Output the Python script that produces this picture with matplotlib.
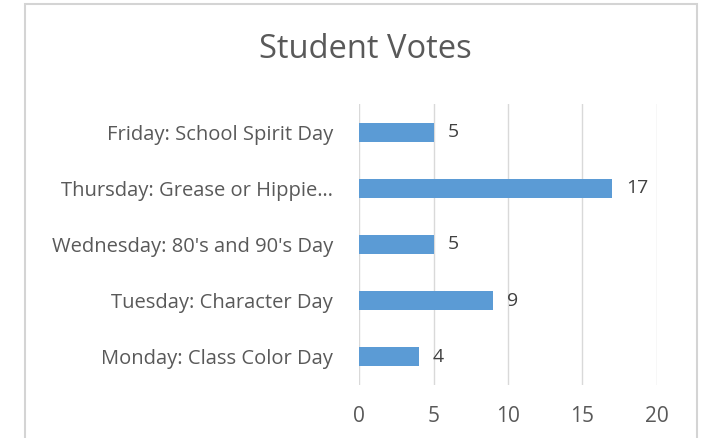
import matplotlib.pyplot as plt
from matplotlib.patches import Rectangle

# Student votes per spirit day
days = [
    "Monday: Class Color Day",
    "Tuesday: Character Day",
    "Wednesday: 80's and 90's Day",
    "Thursday: Grease or Hippie\u2026",
    "Friday: School Spirit Day",
]
votes = [4, 9, 5, 17, 5]
x_ticks = [0, 5, 10, 15, 20]

plt.rcParams['font.family'] = ['Open Sans', 'DejaVu Sans']

fig = plt.figure(figsize=(7.06, 4.38), dpi=100)
ax = fig.add_axes([0.509, 0.121, 0.4213, 0.6416])

ypos = range(len(days))
bars = ax.barh(ypos, votes, height=0.34, color='#5b9bd5', zorder=3)

# value labels to the right of each bar
for y, v in zip(ypos, votes):
    ax.text(v + 0.95, y, str(v), va='center', ha='left',
            fontsize=14, color='#404040')

ax.set_xlim(0, 20)
ax.set_ylim(-0.5, len(days) - 0.5)
ax.set_xticks(x_ticks)
ax.set_yticks(list(ypos))
ax.set_yticklabels(days)
ax.tick_params(axis='y', length=0, pad=19, labelsize=14.5, labelcolor='#595959')
ax.tick_params(axis='x', length=0, pad=15, labelsize=15, labelcolor='#595959')

ax.grid(axis='x', color='#d9d9d9', linewidth=1, zorder=0)
for s in ax.spines.values():
    s.set_visible(False)

fig.text(0.517, 0.888, "Student Votes", ha='center', va='center',
         fontsize=23.5, color='#595959')

# chart area border
fig.patches.append(Rectangle((25 / 706, -0.05), 672 / 706, 1.04,
                             transform=fig.transFigure, fill=False,
                             edgecolor='#d4d4d4', linewidth=1.5))

fig.savefig('out.png', dpi=100)
